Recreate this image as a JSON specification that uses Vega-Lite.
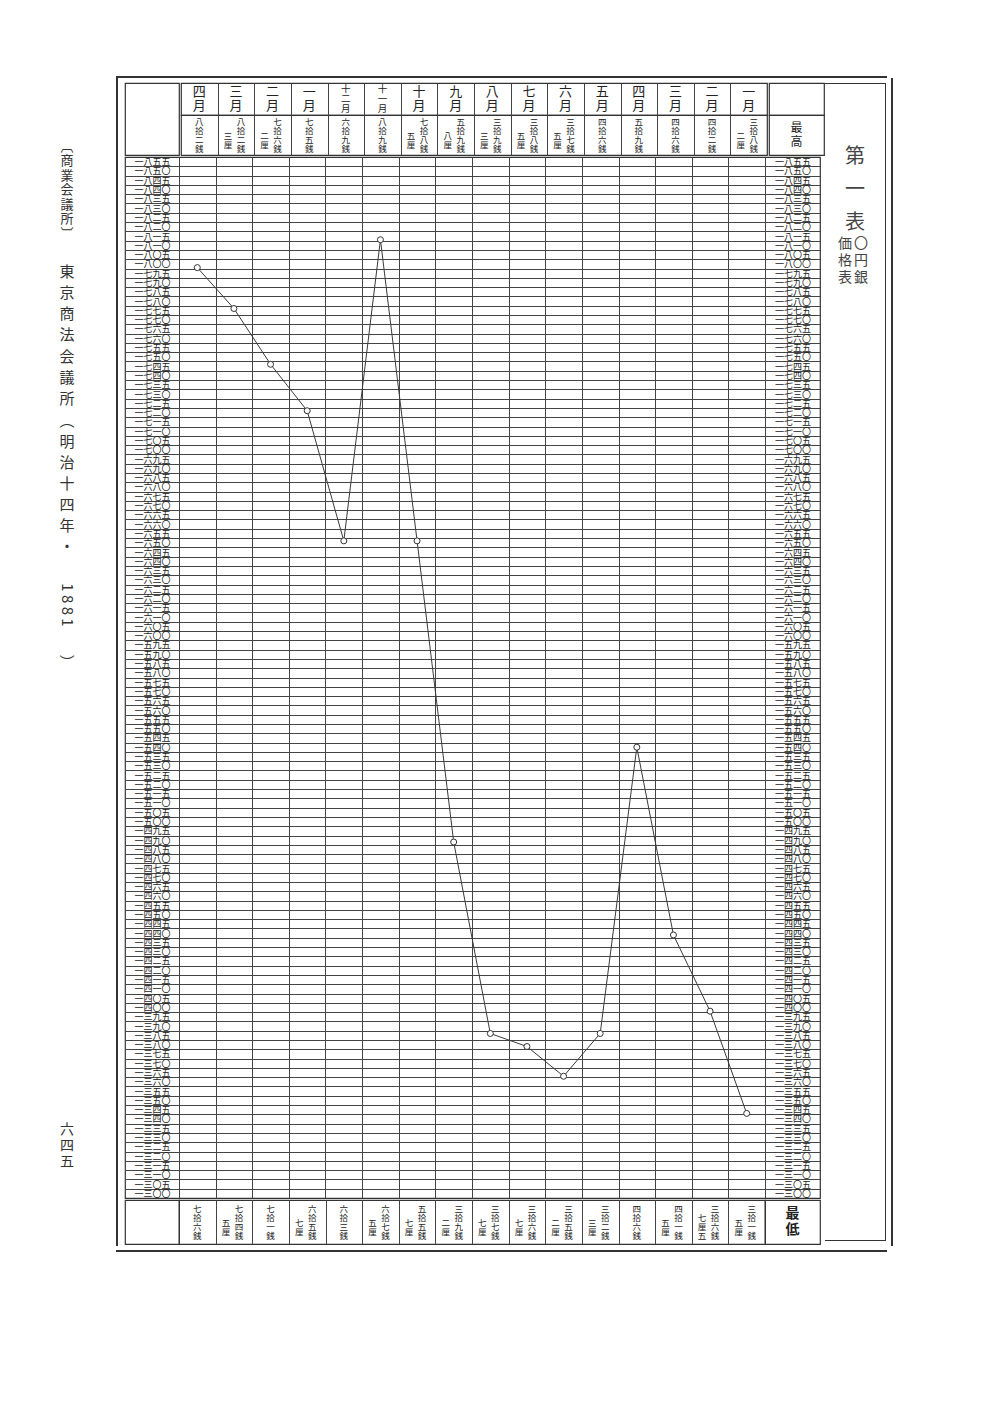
{
  "$schema": "https://vega.github.io/schema/vega-lite/v6.json",
  "background": "white",
  "padding": {"left": 40, "top": 76, "right": 10, "bottom": 10},
  "config": {
    "view": {"stroke": "#333", "strokeWidth": 1.2},
    "concat": {"spacing": 0},
    "text": {"font": "Noto Sans CJK JP", "color": "#222"},
    "axis": {"gridColor": "#444", "gridWidth": 1, "gridOpacity": 1}
  },
  "datasets": {
    "months": [
      {"col": 1, "month": "四月", "value": 1798, "max": "八拾二銭", "maxSub": "", "min": "七拾六銭", "minSub": ""},
      {"col": 2, "month": "三月", "value": 1776, "max": "八拾二銭", "maxSub": "三厘", "min": "七拾四銭", "minSub": "五厘"},
      {"col": 3, "month": "二月", "value": 1746, "max": "七拾六銭", "maxSub": "二厘", "min": "七拾一銭", "minSub": ""},
      {"col": 4, "month": "一月", "value": 1721, "max": "七拾五銭", "maxSub": "", "min": "六拾五銭", "minSub": "七厘"},
      {"col": 5, "month": "十二月", "value": 1651, "max": "六拾九銭", "maxSub": "", "min": "六拾三銭", "minSub": ""},
      {"col": 6, "month": "十一月", "value": 1813, "max": "八拾九銭", "maxSub": "", "min": "六拾七銭", "minSub": "五厘"},
      {"col": 7, "month": "十月", "value": 1651, "max": "七拾八銭", "maxSub": "五厘", "min": "五拾五銭", "minSub": "七厘"},
      {"col": 8, "month": "九月", "value": 1489, "max": "五拾九銭", "maxSub": "八厘", "min": "三拾九銭", "minSub": "二厘"},
      {"col": 9, "month": "八月", "value": 1386, "max": "三拾九銭", "maxSub": "三厘", "min": "三拾七銭", "minSub": "七厘"},
      {"col": 10, "month": "七月", "value": 1379, "max": "三拾八銭", "maxSub": "五厘", "min": "三拾六銭", "minSub": "七厘"},
      {"col": 11, "month": "六月", "value": 1363, "max": "三拾七銭", "maxSub": "五厘", "min": "三拾五銭", "minSub": "二厘"},
      {"col": 12, "month": "五月", "value": 1386, "max": "四拾六銭", "maxSub": "", "min": "三拾二銭", "minSub": "三厘"},
      {"col": 13, "month": "四月", "value": 1540, "max": "五拾九銭", "maxSub": "", "min": "四拾六銭", "minSub": ""},
      {"col": 14, "month": "三月", "value": 1439, "max": "四拾六銭", "maxSub": "", "min": "四拾一銭", "minSub": "五厘"},
      {"col": 15, "month": "二月", "value": 1398, "max": "四拾二銭", "maxSub": "", "min": "三拾六銭", "minSub": "七厘五"},
      {"col": 16, "month": "一月", "value": 1343, "max": "三拾八銭", "maxSub": "二厘", "min": "三拾一銭", "minSub": "五厘"}
    ]
  },
  "spacing": 22,
  "bounds": "full",
  "align": "each",
  "hconcat": [
    {
      "spacing": 0, "bounds": "flush", "align": "each",
      "vconcat": [
        {"width": 54, "height": 64, "data": {"values": []}, "mark": "text", "view": {"stroke": null}},
        {"width": 54, "height": 100, "data": {"values": [{}]}, "view": {"stroke": null},
         "mark": {"type": "text", "fontSize": 13, "lineHeight": 14.5, "dy": -43.5, "color": "#333"},
         "encoding": {"text": {"value": ["︹", "商", "業", "会", "議", "所", "︺"]}}},
        {"width": 54, "height": 20, "data": {"values": []}, "mark": "text", "view": {"stroke": null}},
        {"width": 54, "height": 151, "data": {"values": [{}]}, "view": {"stroke": null},
         "mark": {"type": "text", "fontSize": 15, "lineHeight": 21.3, "dy": -63.9, "color": "#333"},
         "encoding": {"text": {"value": ["東", "京", "商", "法", "会", "議", "所"]}}},
        {"width": 54, "height": 146, "data": {"values": [{}]}, "view": {"stroke": null},
         "mark": {"type": "text", "fontSize": 15, "lineHeight": 21, "dy": -63, "color": "#333"},
         "encoding": {"text": {"value": ["︵", "明", "治", "十", "四", "年", "・"]}}},
        {"width": 54, "height": 96, "data": {"values": [{}]}, "view": {"stroke": null},
         "mark": {"type": "text", "fontSize": 15, "angle": 90, "color": "#333"},
         "encoding": {"text": {"value": "1 8 8 1"}}},
        {"width": 54, "height": 20, "data": {"values": [{}]}, "view": {"stroke": null},
         "mark": {"type": "text", "fontSize": 15, "color": "#333"},
         "encoding": {"text": {"value": "︶"}}},
        {"width": 54, "height": 453, "data": {"values": []}, "mark": "text", "view": {"stroke": null}},
        {"width": 54, "height": 40, "data": {"values": [{}]}, "view": {"stroke": null},
         "mark": {"type": "text", "fontSize": 14, "lineHeight": 16, "dy": -16, "color": "#333"},
         "encoding": {"text": {"value": ["六", "四", "五"]}}}
      ]
    },
    {
      "spacing": 0, "bounds": "full", "align": "each",
      "vconcat": [
        {"width": 771, "height": 2, "data": {"values": []}, "mark": "text", "view": {"fill": "#333", "stroke": null}},
        {
          "spacing": 0, "bounds": "full", "align": "each",
          "hconcat": [
            {"width": 2, "height": 1168, "data": {"values": []}, "mark": "text", "view": {"fill": "#333", "stroke": null}},
            {"width": 6, "height": 1168, "data": {"values": []}, "mark": "text", "view": {"stroke": null}},
            {
              "spacing": 0, "bounds": "full", "align": "each",
              "vconcat": [
                {"width": 756, "height": 4, "data": {"values": []}, "mark": "text", "view": {"stroke": null}},
                {
                  "spacing": 0, "bounds": "full", "align": "each",
                  "hconcat": [
                    {
                      "spacing": 0, "bounds": "full", "align": "each",
                      "vconcat": [
                        {
                          "spacing": 0, "bounds": "full", "align": "each",
                          "hconcat": [
                            {"width": 54, "height": 72, "data": {"values": []}, "mark": "text", "view": {"stroke": "#333", "strokeWidth": 1.2}},
                            {
                              "spacing": 0, "bounds": "flush", "align": "each",
                              "vconcat": [
                                {
                                  "width": 586, "height": 32, "data": {"name": "months"},
                                  "transform": [{"calculate": "split(datum.month, '')", "as": "monthV"}],
                                  "encoding": {"x": {"field": "col", "type": "quantitative", "scale": {"domain": [0.5, 16.5], "nice": false, "zero": false},
                                    "axis": {"values": [1.5, 2.5, 3.5, 4.5, 5.5, 6.5, 7.5, 8.5, 9.5, 10.5, 11.5, 12.5, 13.5, 14.5, 15.5], "grid": true, "labels": false, "ticks": false, "domain": false, "title": null}}},
                                  "layer": [
                                    {"transform": [{"filter": "length(datum.month) == 2"}],
                                     "mark": {"type": "text", "fontSize": 13, "lineHeight": 14, "dy": -7},
                                     "encoding": {"text": {"field": "monthV", "type": "nominal"}}},
                                    {"transform": [{"filter": "length(datum.month) == 3"}],
                                     "mark": {"type": "text", "fontSize": 9.5, "lineHeight": 10, "dy": -10},
                                     "encoding": {"text": {"field": "monthV", "type": "nominal"}}}
                                  ]
                                },
                                {
                                  "width": 586, "height": 40, "data": {"name": "months"},
                                  "transform": [{"calculate": "split(datum.max, '')", "as": "maxV"}, {"calculate": "split(datum.maxSub, '')", "as": "maxSubV"}],
                                  "encoding": {"x": {"field": "col", "type": "quantitative", "scale": {"domain": [0.5, 16.5], "nice": false, "zero": false},
                                    "axis": {"values": [1.5, 2.5, 3.5, 4.5, 5.5, 6.5, 7.5, 8.5, 9.5, 10.5, 11.5, 12.5, 13.5, 14.5, 15.5], "grid": true, "labels": false, "ticks": false, "domain": false, "title": null}}},
                                  "layer": [
                                    {"transform": [{"filter": "datum.maxSub == ''"}],
                                     "mark": {"type": "text", "fontSize": 8.5, "lineHeight": 9, "dy": -13.5},
                                     "encoding": {"text": {"field": "maxV", "type": "nominal"}}},
                                    {"transform": [{"filter": "datum.maxSub != ''"}],
                                     "mark": {"type": "text", "fontSize": 8.5, "lineHeight": 9, "dx": 5, "dy": -13.5},
                                     "encoding": {"text": {"field": "maxV", "type": "nominal"}}},
                                    {"transform": [{"filter": "length(datum.maxSub) == 2"}],
                                     "mark": {"type": "text", "fontSize": 8.5, "lineHeight": 9, "dx": -8, "dy": 1},
                                     "encoding": {"text": {"field": "maxSubV", "type": "nominal"}}},
                                    {"transform": [{"filter": "length(datum.maxSub) == 3"}],
                                     "mark": {"type": "text", "fontSize": 8.5, "lineHeight": 9, "dx": -8, "dy": -4},
                                     "encoding": {"text": {"field": "maxSubV", "type": "nominal"}}}
                                  ]
                                }
                              ]
                            },
                            {
                              "spacing": 0, "bounds": "flush", "align": "each",
                              "vconcat": [
                                {"width": 55, "height": 32, "data": {"values": []}, "mark": "text", "view": {"stroke": "#333", "strokeWidth": 1.2}},
                                {"width": 55, "height": 40, "data": {"values": [{}]}, "view": {"stroke": "#333", "strokeWidth": 1.2},
                                 "mark": {"type": "text", "fontSize": 12, "lineHeight": 14, "dy": -7},
                                 "encoding": {"text": {"value": ["最", "高"]}}}
                              ]
                            }
                          ]
                        },
                        {
                          "width": 695, "height": 1041, "data": {"name": "months"},
                          "layer": [
                            {
                              "mark": {"type": "line", "color": "#3a3a3a", "strokeWidth": 1},
                              "encoding": {
                                "x": {"field": "col", "type": "quantitative", "scale": {"domain": [-0.9744, 18.0017], "nice": false, "zero": false},
                                  "axis": {"values": [0.5, 1.5, 2.5, 3.5, 4.5, 5.5, 6.5, 7.5, 8.5, 9.5, 10.5, 11.5, 12.5, 13.5, 14.5, 15.5, 16.5], "grid": true, "labels": false, "ticks": false, "domain": false, "title": null}},
                                "y": {"field": "value", "type": "quantitative", "scale": {"domain": [1297.5, 1857.5], "nice": false, "zero": false},
                                  "axis": {"values": [1302.5,1307.5,1312.5,1317.5,1322.5,1327.5,1332.5,1337.5,1342.5,1347.5,1352.5,1357.5,1362.5,1367.5,1372.5,1377.5,1382.5,1387.5,1392.5,1397.5,1402.5,1407.5,1412.5,1417.5,1422.5,1427.5,1432.5,1437.5,1442.5,1447.5,1452.5,1457.5,1462.5,1467.5,1472.5,1477.5,1482.5,1487.5,1492.5,1497.5,1502.5,1507.5,1512.5,1517.5,1522.5,1527.5,1532.5,1537.5,1542.5,1547.5,1552.5,1557.5,1562.5,1567.5,1572.5,1577.5,1582.5,1587.5,1592.5,1597.5,1602.5,1607.5,1612.5,1617.5,1622.5,1627.5,1632.5,1637.5,1642.5,1647.5,1652.5,1657.5,1662.5,1667.5,1672.5,1677.5,1682.5,1687.5,1692.5,1697.5,1702.5,1707.5,1712.5,1717.5,1722.5,1727.5,1732.5,1737.5,1742.5,1747.5,1752.5,1757.5,1762.5,1767.5,1772.5,1777.5,1782.5,1787.5,1792.5,1797.5,1802.5,1807.5,1812.5,1817.5,1822.5,1827.5,1832.5,1837.5,1842.5,1847.5,1852.5], "grid": true, "labels": false, "ticks": false, "domain": false, "title": null}}
                              }
                            },
                            {
                              "mark": {"type": "point", "filled": true, "fill": "white", "stroke": "#333", "strokeWidth": 1, "size": 36, "opacity": 1},
                              "encoding": {
                                "x": {"field": "col", "type": "quantitative", "axis": null},
                                "y": {"field": "value", "type": "quantitative",
                                  "axis": {"orient": "left", "values": [1300,1305,1310,1315,1320,1325,1330,1335,1340,1345,1350,1355,1360,1365,1370,1375,1380,1385,1390,1395,1400,1405,1410,1415,1420,1425,1430,1435,1440,1445,1450,1455,1460,1465,1470,1475,1480,1485,1490,1495,1500,1505,1510,1515,1520,1525,1530,1535,1540,1545,1550,1555,1560,1565,1570,1575,1580,1585,1590,1595,1600,1605,1610,1615,1620,1625,1630,1635,1640,1645,1650,1655,1660,1665,1670,1675,1680,1685,1690,1695,1700,1705,1710,1715,1720,1725,1730,1735,1740,1745,1750,1755,1760,1765,1770,1775,1780,1785,1790,1795,1800,1805,1810,1815,1820,1825,1830,1835,1840,1845,1850,1855],
                                    "grid": false, "ticks": false, "tickSize": 0, "domain": false, "title": null,
                                    "labelPadding": -27, "labelAlign": "center", "labelBaseline": "middle", "labelOverlap": false, "labelFlush": false, "labelBound": false,
                                    "labelFont": "Noto Sans CJK JP", "labelFontSize": 9, "labelColor": "#222",
                                    "labelExpr": "substring('〇一二三四五六七八九', floor(datum.value/1000)%10, floor(datum.value/1000)%10+1) + substring('〇一二三四五六七八九', floor(datum.value/100)%10, floor(datum.value/100)%10+1) + substring('〇一二三四五六七八九', floor(datum.value/10)%10, floor(datum.value/10)%10+1) + substring('〇一二三四五六七八九', datum.value%10, datum.value%10+1)"}}
                              }
                            },
                            {
                              "mark": {"type": "point", "opacity": 0},
                              "encoding": {
                                "x": {"field": "col", "type": "quantitative", "axis": null},
                                "y": {"field": "value", "type": "quantitative",
                                  "axis": {"orient": "right", "values": [1300,1305,1310,1315,1320,1325,1330,1335,1340,1345,1350,1355,1360,1365,1370,1375,1380,1385,1390,1395,1400,1405,1410,1415,1420,1425,1430,1435,1440,1445,1450,1455,1460,1465,1470,1475,1480,1485,1490,1495,1500,1505,1510,1515,1520,1525,1530,1535,1540,1545,1550,1555,1560,1565,1570,1575,1580,1585,1590,1595,1600,1605,1610,1615,1620,1625,1630,1635,1640,1645,1650,1655,1660,1665,1670,1675,1680,1685,1690,1695,1700,1705,1710,1715,1720,1725,1730,1735,1740,1745,1750,1755,1760,1765,1770,1775,1780,1785,1790,1795,1800,1805,1810,1815,1820,1825,1830,1835,1840,1845,1850,1855],
                                    "grid": false, "ticks": false, "tickSize": 0, "domain": false, "title": null,
                                    "labelPadding": -27.5, "labelAlign": "center", "labelBaseline": "middle", "labelOverlap": false, "labelFlush": false, "labelBound": false,
                                    "labelFont": "Noto Sans CJK JP", "labelFontSize": 9, "labelColor": "#222",
                                    "labelExpr": "substring('〇一二三四五六七八九', floor(datum.value/1000)%10, floor(datum.value/1000)%10+1) + substring('〇一二三四五六七八九', floor(datum.value/100)%10, floor(datum.value/100)%10+1) + substring('〇一二三四五六七八九', floor(datum.value/10)%10, floor(datum.value/10)%10+1) + substring('〇一二三四五六七八九', datum.value%10, datum.value%10+1)"}}
                              }
                            }
                          ],
                          "resolve": {"axis": {"x": "independent", "y": "independent"}}
                        },
                        {
                          "spacing": 0, "bounds": "flush", "align": "each",
                          "hconcat": [
                            {"width": 54, "height": 44, "data": {"values": []}, "mark": "text", "view": {"stroke": "#333", "strokeWidth": 1.2}},
                            {
                              "width": 586, "height": 44, "data": {"name": "months"},
                              "transform": [{"calculate": "split(datum.min, '')", "as": "minV"}, {"calculate": "split(datum.minSub, '')", "as": "minSubV"}],
                              "encoding": {"x": {"field": "col", "type": "quantitative", "scale": {"domain": [0.5, 16.5], "nice": false, "zero": false},
                                "axis": {"values": [1.5, 2.5, 3.5, 4.5, 5.5, 6.5, 7.5, 8.5, 9.5, 10.5, 11.5, 12.5, 13.5, 14.5, 15.5], "grid": true, "labels": false, "ticks": false, "domain": false, "title": null}}},
                              "layer": [
                                {"transform": [{"filter": "datum.minSub == ''"}],
                                 "mark": {"type": "text", "fontSize": 8.5, "lineHeight": 9, "dy": -13.5},
                                 "encoding": {"text": {"field": "minV", "type": "nominal"}}},
                                {"transform": [{"filter": "datum.minSub != ''"}],
                                 "mark": {"type": "text", "fontSize": 8.5, "lineHeight": 9, "dx": 5, "dy": -13.5},
                                 "encoding": {"text": {"field": "minV", "type": "nominal"}}},
                                {"transform": [{"filter": "length(datum.minSub) == 2"}],
                                 "mark": {"type": "text", "fontSize": 8.5, "lineHeight": 9, "dx": -8, "dy": 1},
                                 "encoding": {"text": {"field": "minSubV", "type": "nominal"}}},
                                {"transform": [{"filter": "length(datum.minSub) == 3"}],
                                 "mark": {"type": "text", "fontSize": 8.5, "lineHeight": 9, "dx": -8, "dy": -4},
                                 "encoding": {"text": {"field": "minSubV", "type": "nominal"}}}
                              ]
                            },
                            {"width": 55, "height": 44, "data": {"values": [{}]}, "view": {"stroke": "#333", "strokeWidth": 1.2},
                             "mark": {"type": "text", "fontSize": 14, "fontWeight": "bold", "lineHeight": 16, "dy": -8},
                             "encoding": {"text": {"value": ["最", "低"]}}}
                          ]
                        }
                      ]
                    },
                    {
                      "spacing": 0, "bounds": "full", "align": "each",
                      "hconcat": [
                        {
                          "spacing": 0, "bounds": "flush", "align": "each",
                          "vconcat": [
                            {"width": 60, "height": 1, "data": {"values": []}, "mark": "text", "view": {"fill": "#333", "stroke": null}},
                            {"width": 60, "height": 59, "data": {"values": []}, "mark": "text", "view": {"stroke": null}},
                            {"width": 60, "height": 90, "data": {"values": [{}]}, "view": {"stroke": null},
                             "mark": {"type": "text", "fontSize": 20, "lineHeight": 33, "dy": -31, "color": "#444"},
                             "encoding": {"text": {"value": ["第", "一", "表"]}}},
                            {"width": 60, "height": 50, "data": {"values": [{}]}, "view": {"stroke": null},
                             "layer": [
                               {"mark": {"type": "text", "fontSize": 14, "lineHeight": 17, "dx": -10, "dy": -14, "color": "#444"},
                                "encoding": {"text": {"value": ["価", "格", "表"]}}},
                               {"mark": {"type": "text", "fontSize": 14, "lineHeight": 17, "dx": 6, "dy": -14, "color": "#444"},
                                "encoding": {"text": {"value": ["〇", "円", "銀"]}}}
                             ]},
                            {"width": 60, "height": 957, "data": {"values": []}, "mark": "text", "view": {"stroke": null}},
                            {"width": 60, "height": 1, "data": {"values": []}, "mark": "text", "view": {"fill": "#333", "stroke": null}}
                          ]
                        },
                        {"width": 1, "height": 1158, "data": {"values": []}, "mark": "text", "view": {"fill": "#333", "stroke": null}}
                      ]
                    }
                  ]
                },
                {"width": 756, "height": 5, "data": {"values": []}, "mark": "text", "view": {"stroke": null}}
              ]
            },
            {"width": 5, "height": 1168, "data": {"values": []}, "mark": "text", "view": {"stroke": null}},
            {"width": 2, "height": 1168, "data": {"values": []}, "mark": "text", "view": {"fill": "#333", "stroke": null}}
          ]
        },
        {"width": 771, "height": 2, "data": {"values": []}, "mark": "text", "view": {"fill": "#333", "stroke": null}}
      ]
    }
  ]
}
